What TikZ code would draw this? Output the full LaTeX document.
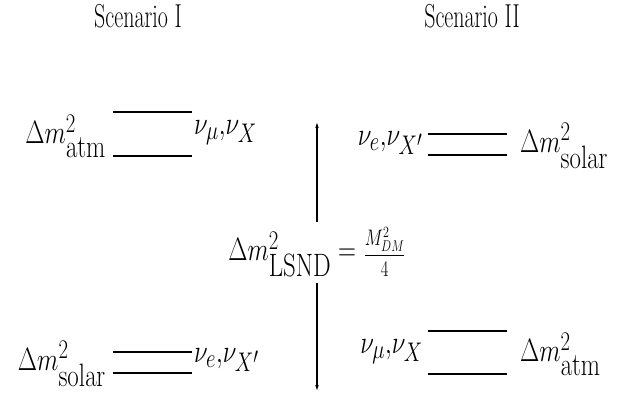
\documentclass[tikz,border=0pt]{standalone}
\usepackage{amsmath}
\usepackage{graphicx}
\usepackage{tikz}
\usetikzlibrary{arrows.meta}

\newcommand{\stretchy}[2][1.3]{\scalebox{1}[#1]{#2}}
\newcommand{\headtext}[1]{\scalebox{1.06}[1.6]{#1}}

\begin{document}
\begin{tikzpicture}[x=1pt, y=-1pt,
  lab/.style={inner sep=0pt, font=\fontsize{24.88}{28}\selectfont},
  head/.style={inner sep=0pt, font=\fontsize{20.74}{24}\selectfont},
  level/.style={line width=1.2pt},
  arr/.style={-{Stealth[length=5pt, width=3.5pt]}, line width=1.1pt},
]
  \useasboundingbox (0,0) rectangle (618,392);

  % headings
  \node[head] (scI)  at (138,16) {\headtext{Scenario I}};
  \node[head] (scII) at (472,16) {\headtext{Scenario II}};

  % scenario I
  \draw[level] (113,112) -- (192,112);
  \draw[level] (113,156) -- (192,156);
  \draw[level] (113,352) -- (192,352);
  \draw[level] (113,373) -- (192,373);
  \node[lab, anchor=east] (atmI)   at (106,136) {\stretchy{$\Delta m^2_{\textstyle\mathrm{atm}}$}};
  \node[lab, anchor=west] (numuI)  at (194,133) {\stretchy{$\nu_\mu{,}\nu_X$}};
  \node[lab, anchor=east] (solI)   at (106,364) {\stretchy{$\Delta m^2_{\textstyle\mathrm{solar}}$}};
  \node[lab, anchor=west] (nueI)   at (194,360) {\stretchy{$\nu_e{,}\nu_{X'}$}};

  % scenario II
  \draw[level] (428,134) -- (507,134);
  \draw[level] (428,155) -- (507,155);
  \draw[level] (428,331) -- (507,331);
  \draw[level] (428,374) -- (507,374);
  \node[lab, anchor=east] (nueII)  at (423,143) {\stretchy{$\nu_e{,}\nu_{X'}$}};
  \node[lab, anchor=west] (solII)  at (520,146) {\stretchy{$\Delta m^2_{\textstyle\mathrm{solar}}$}};
  \node[lab, anchor=east] (numuII) at (423,352) {\stretchy{$\nu_\mu{,}\nu_X$}};
  \node[lab, anchor=west] (atmII)  at (520,354) {\stretchy{$\Delta m^2_{\textstyle\mathrm{atm}}$}};

  % LSND splitting
  \node[lab] (lsnd) at (317,252)
    {\stretchy{$\Delta m^2_{\textstyle\mathrm{LSND}} =$ {\fontsize{17.28}{20}\selectfont$\dfrac{M^2_{DM}}{4}$}}};
  \coordinate (gaptop) at (317,222);
  \coordinate (gapbot) at (317,283);
  \coordinate (vtop)   at (317,123);
  \coordinate (vbot)   at (317,390);
  \draw[arr] (gaptop) -- (vtop);
  \draw[arr] (gapbot) -- (vbot);
\end{tikzpicture}
\end{document}
